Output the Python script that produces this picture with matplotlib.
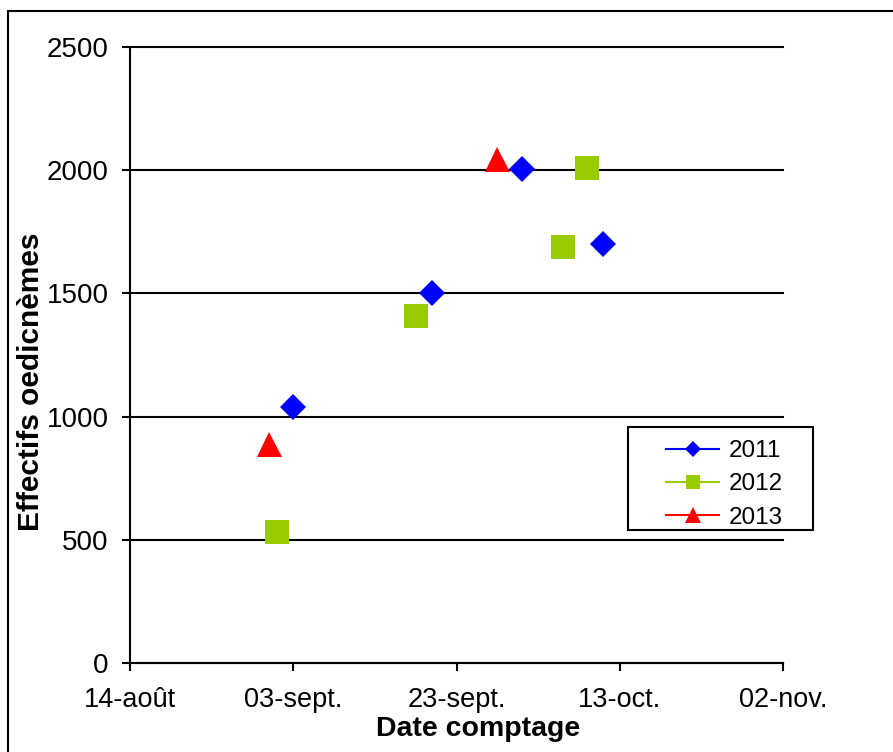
"""
Effectifs d'oedicnèmes par date de comptage (2011-2013)
"""
from datetime import date
import matplotlib
matplotlib.use('Agg')
import matplotlib.pyplot as plt
import matplotlib.dates as mdates
from matplotlib.patches import Rectangle

# dates de comptage (toutes ramenées sur la même année pour l'axe)
dates_2011 = ['09-03', '09-20', '10-01', '10-11']
counts_2011 = [1040, 1500, 2005, 1700]
dates_2012 = ['09-01', '09-18', '10-06', '10-09']
counts_2012 = [530, 1410, 1690, 2010]
dates_2013 = ['08-31', '09-28']
counts_2013 = [890, 2045]

tick_dates = ['08-14', '09-03', '09-23', '10-13', '11-02']
tick_labels = ['14-août', '03-sept.', '23-sept.', '13-oct.', '02-nov.']
y_ticks = [0, 500, 1000, 1500, 2000, 2500]


def to_num(md_list):
    return [mdates.date2num(date(2011, int(s[:2]), int(s[3:]))) for s in md_list]


plt.rcParams['font.family'] = ['Liberation Sans', 'DejaVu Sans']

fig = plt.figure(figsize=(8.93, 7.52), dpi=100)
ax = fig.add_axes([130 / 893, 1 - 663 / 752, 653 / 893, 616 / 752])

# cadre du graphique
fig.patches.append(Rectangle((8 / 893, -0.1), 1.2, 1.1 - 11 / 752,
                             transform=fig.transFigure, fill=False,
                             edgecolor='black', linewidth=1.5))

ax.plot(to_num(dates_2011), counts_2011, 'D', color='#0000FF', markersize=13.5,
        markeredgewidth=0, linestyle='none', zorder=3)
ax.plot(to_num(dates_2012), counts_2012, 's', color='#99CC00', markersize=17,
        markeredgewidth=0, linestyle='none', zorder=3)
ax.plot(to_num(dates_2013), counts_2013, '^', color='#FF0000', markersize=18,
        markeredgewidth=0, linestyle='none', zorder=3)

ticks = to_num(tick_dates)
ax.set_xlim(ticks[0], ticks[-1])
ax.set_ylim(0, 2500)
ax.set_xticks(ticks)
ax.set_xticklabels(tick_labels)
ax.set_yticks(y_ticks)

ax.yaxis.grid(True, color='black', linewidth=1.5)
ax.set_axisbelow(True)
for g in ax.get_ygridlines():
    g.set_clip_on(False)
for side in ['top', 'right']:
    ax.spines[side].set_visible(False)
for side in ['left', 'bottom']:
    ax.spines[side].set_linewidth(1.5)

ax.tick_params(axis='both', direction='out', length=6, width=1.5)
ax.tick_params(axis='x', pad=11, labelsize=19.5)
ax.tick_params(axis='y', pad=9.5, labelsize=20)

ax.set_xlabel('Date comptage', fontsize=20.5, fontweight='bold')
ax.set_ylabel('Effectifs oedicnèmes', fontsize=21.5, fontweight='bold')
ax.xaxis.set_label_coords(0.533, -0.086)
ax.yaxis.set_label_coords(-0.130, 0.456)

# légende avec trait + marqueur, cadre dessiné à part
h1, = ax.plot([], [], '-D', color='#0000FF', markersize=8, markeredgewidth=0, lw=1.5)
h2, = ax.plot([], [], '-s', color='#99CC00', markersize=10, markeredgewidth=0, lw=1.5)
h3, = ax.plot([], [], '-^', color='#FF0000', markersize=11, markeredgewidth=0, lw=1.5)
ax.legend([h1, h2, h3], ['2011', '2012', '2013'], loc='upper left',
          bbox_to_anchor=(0.8208, 0.362), fontsize=17.5, frameon=False,
          handlelength=2.2, handletextpad=0.38, labelspacing=0.47,
          borderpad=0, borderaxespad=0)
ax.add_patch(Rectangle((0.7626, 0.2159), 0.2833, 0.1672, transform=ax.transAxes,
                       fill=False, edgecolor='black', linewidth=1.5, clip_on=False))

plt.savefig('out.png', dpi=100)
plt.close()
